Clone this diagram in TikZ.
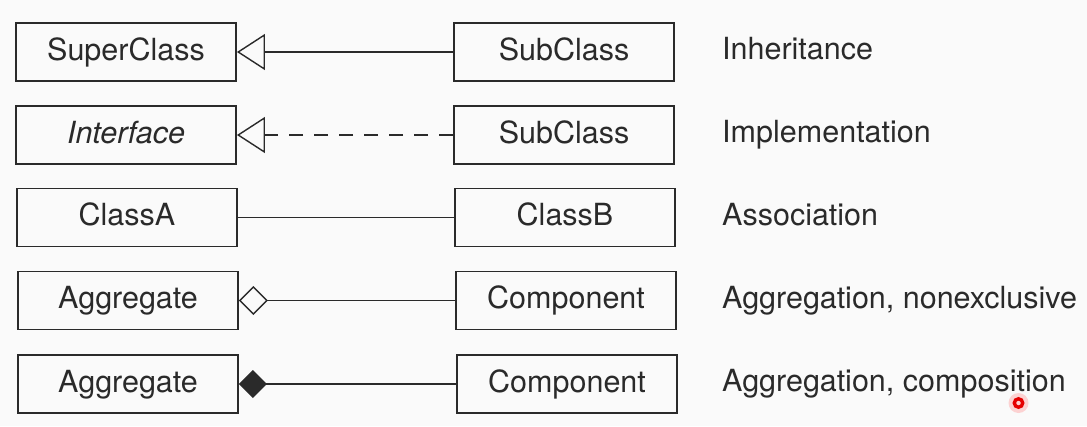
\documentclass[tikz,border=0pt]{standalone}
\usepackage{fontspec}
\setmainfont{TeX Gyre Heros}
\usetikzlibrary{arrows.meta}
\definecolor{ink}{HTML}{2A2A2A}
\definecolor{paper}{HTML}{FAFAFA}
\tikzset{
  cls/.style={draw=ink, line width=1.9pt, minimum width=220pt, minimum height=58pt,
    inner sep=0pt, text=ink, font=\fontsize{30.5}{34}\selectfont, text height=22pt, text depth=6pt},
  lbl/.style={anchor=base west, inner sep=0pt, text=ink, font=\fontsize{30.5}{34}\selectfont},
  conn/.style={draw=ink, line width=1.4pt},
  inh/.style={conn, -{Triangle[open, length=28pt, width=36pt, line width=1.4pt]}},
  impl/.style={inh, dash pattern=on 14pt off 11pt},
  aggr/.style={conn, -{Diamond[open, length=29pt, width=29pt, line width=1.4pt]}},
  comp/.style={conn, -{Diamond[length=28pt, width=28pt, fill=ink, line width=1.4pt]}},
}
\begin{document}
\begin{tikzpicture}[x=1pt, y=-1pt]
\fill[paper] (0,0) rectangle (1087,426);
\useasboundingbox (0,0) rectangle (1087,426);
% left column
\node[cls] (sup)  at (126,52)    {SuperClass};
\node[cls] (intf) at (126,135)   {\itshape Interface};
\node[cls] (ca)   at (127,217.5) {ClassA};
\node[cls] (agg1) at (128,300.5) {Aggregate};
\node[cls] (agg2) at (128,384)   {Aggregate};
% right column
\node[cls] (sub1) at (564,52)    {SubClass};
\node[cls] (sub2) at (564,135)   {SubClass};
\node[cls] (cb)   at (565,217.5) {ClassB};
\node[cls] (cmp1) at (566,300.5) {Component};
\node[cls] (cmp2) at (567,384)   {Component};
% labels
\node[lbl] (l1) at (722,59.5)  {Inheritance};
\node[lbl] (l2) at (722,142.5) {Implementation};
\node[lbl] (l3) at (722,225)   {Association};
\node[lbl] (l4) at (722,308)   {Aggregation, nonexclusive};
\node[lbl] (l5) at (722,391.5) {Aggregation, composition};
% connectors
\draw[inh]  (sub1.west) -- (sup.east);
\draw[impl] (sub2.west) -- (intf.east);
\draw[conn] (cb.west)   -- (ca.east);
\draw[aggr] (cmp1.west) -- (agg1.east);
\draw[comp] (cmp2.west) -- (agg2.east);
% red pointer mark
\fill[red!30, opacity=0.55] (1018.5,403) circle (10pt);
\draw[red!90!black, line width=3.4pt] (1018.5,403) circle (4.2pt);
\end{tikzpicture}
\end{document}
